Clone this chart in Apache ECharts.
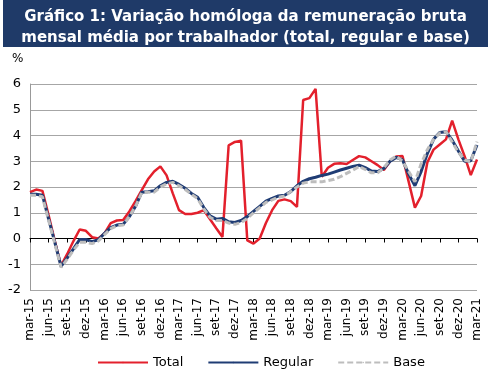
<!DOCTYPE html>
<html><head><meta charset="utf-8">
<script src="https://cdn.jsdelivr.net/npm/echarts@6/dist/echarts.min.js"></script>
<style>html,body{margin:0;padding:0;background:#fff}#c{width:491px;height:370px}</style>
</head><body><div id="c"></div>
<script>
const titleText = 'Gráfico 1: Variação homóloga da remuneração bruta\nmensal média por trabalhador (total, regular e base)';
const unitLabel = '%';
const categories = [
 'mar-15','abr-15','mai-15','jun-15','jul-15','ago-15','set-15','out-15','nov-15','dez-15','jan-16','fev-16',
 'mar-16','abr-16','mai-16','jun-16','jul-16','ago-16','set-16','out-16','nov-16','dez-16','jan-17','fev-17',
 'mar-17','abr-17','mai-17','jun-17','jul-17','ago-17','set-17','out-17','nov-17','dez-17','jan-18','fev-18',
 'mar-18','abr-18','mai-18','jun-18','jul-18','ago-18','set-18','out-18','nov-18','dez-18','jan-19','fev-19',
 'mar-19','abr-19','mai-19','jun-19','jul-19','ago-19','set-19','out-19','nov-19','dez-19','jan-20','fev-20',
 'mar-20','abr-20','mai-20','jun-20','jul-20','ago-20','set-20','out-20','nov-20','dez-20','jan-21','fev-21',
 'mar-21'];
const total = [
 1.8, 1.9, 1.85, 0.9, -0.1, -1.05, -0.6, -0.1, 0.35, 0.3, 0.05, 0.0,
 0.2, 0.6, 0.7, 0.72, 1.05, 1.45, 1.88, 2.3, 2.6, 2.8, 2.45, 1.75,
 1.1, 0.95, 0.95, 1.0, 1.1, 0.75, 0.4, 0.06, 3.62, 3.75, 3.8, -0.07,
 -0.2, 0.0, 0.6, 1.1, 1.46, 1.52, 1.45, 1.23, 5.38, 5.45, 5.81, 2.4,
 2.75, 2.9, 2.92, 2.89, 3.05, 3.2, 3.15, 3.0, 2.85, 2.66, 3.0, 3.18,
 3.2, 2.2, 1.2, 1.65, 2.95, 3.45, 3.65, 3.85, 4.58, 3.85, 3.2, 2.46,
 3.07];
const regular = [
 1.72, 1.72, 1.68, 0.75, -0.15, -1.08, -0.75, -0.4, -0.04, -0.04, -0.12, -0.05,
 0.2, 0.42, 0.52, 0.55, 0.85, 1.25, 1.8, 1.82, 1.85, 2.05, 2.18, 2.22,
 2.1, 1.95, 1.75, 1.6, 1.2, 0.88, 0.75, 0.78, 0.65, 0.62, 0.7, 0.85,
 1.05, 1.25, 1.45, 1.56, 1.65, 1.68, 1.82, 2.05, 2.22, 2.32, 2.38, 2.45,
 2.5, 2.58, 2.66, 2.73, 2.8, 2.85, 2.75, 2.62, 2.6, 2.72, 3.0, 3.15,
 3.05, 2.5, 2.05, 2.6, 3.3, 3.85, 4.12, 4.15, 3.82, 3.4, 3.0, 3.02,
 3.63];
const base = [
 1.68, 1.68, 1.62, 0.7, -0.2, -1.12, -0.8, -0.45, -0.15, -0.15, -0.2, -0.1,
 0.15, 0.38, 0.5, 0.52, 0.85, 1.25, 1.78, 1.8, 1.8, 2.0, 2.12, 2.18,
 2.05, 1.9, 1.72, 1.55, 1.15, 0.82, 0.7, 0.7, 0.6, 0.55, 0.62, 0.78,
 1.0, 1.2, 1.4, 1.5, 1.6, 1.65, 1.82, 2.0, 2.15, 2.2, 2.2, 2.2,
 2.25, 2.3, 2.4, 2.53, 2.65, 2.8, 2.68, 2.55, 2.55, 2.75, 3.05, 3.2,
 3.0, 2.6, 2.2, 2.9, 3.45, 3.85, 4.1, 4.15, 3.75, 3.35, 3.05, 2.98,
 3.76];
const seriesNames = ['Total', 'Regular', 'Base'];

const FONT = 'DejaVu Sans';
const chart = echarts.init(document.getElementById('c'), null, {renderer: 'canvas'});
chart.setOption({
  animation: false,
  textStyle: {fontFamily: FONT},
  graphic: [
    {type: 'rect', left: 3, top: 0, shape: {width: 485, height: 47}, style: {fill: '#1F3A68'}, z: 0},
    {type: 'text', left: 12, top: 53, style: {text: unitLabel, font: '12px ' + FONT, fill: '#000'}}
  ],
  title: {
    text: titleText, left: 'center', top: 2,
    textStyle: {color: '#fff', fontSize: 15, fontWeight: 'bold', fontFamily: FONT, lineHeight: 21}
  },
  legend: {
    data: seriesNames, left: 92, top: 351, itemWidth: 50, itemHeight: 2, itemGap: 24,
    textStyle: {fontSize: 13, color: '#000', fontFamily: FONT}
  },
  grid: {left: 30, right: 14, top: 84, bottom: 80, containLabel: false},
  xAxis: [
    {type: 'category', data: categories, boundaryGap: false,
     axisLine: {onZero: true, lineStyle: {color: '#000', width: 1}},
     axisTick: {show: true, interval: 2, length: 4, lineStyle: {color: '#000'}},
     axisLabel: {show: false}, splitLine: {show: false}},
    {type: 'category', data: categories, boundaryGap: false, position: 'bottom',
     axisLine: {show: false, onZero: false}, axisTick: {show: false},
     axisLabel: {interval: 2, rotate: 90, margin: 8, fontSize: 12, color: '#000', fontFamily: FONT},
     splitLine: {show: false}}
  ],
  yAxis: {
    type: 'value', min: -2, max: 6, interval: 1,
    axisLine: {show: true, lineStyle: {color: '#999'}},
    axisTick: {show: false},
    axisLabel: {fontSize: 13, color: '#000', margin: 9, fontFamily: FONT},
    splitLine: {lineStyle: {color: '#A6A6A6', width: 1}}
  },
  series: [
    {name: seriesNames[0], type: 'line', data: total, symbol: 'none', xAxisIndex: 0,
     lineStyle: {color: '#E3202C', width: 2.5}, itemStyle: {color: '#E3202C'}},
    {name: seriesNames[1], type: 'line', data: regular, symbol: 'none', xAxisIndex: 0,
     lineStyle: {color: '#1F3C74', width: 3}, itemStyle: {color: '#1F3C74'}},
    {name: seriesNames[2], type: 'line', data: base, symbol: 'none', xAxisIndex: 0,
     lineStyle: {color: '#BDBDBD', width: 3, type: [6, 3]}, itemStyle: {color: '#BDBDBD'}}
  ]
});
</script></body></html>
